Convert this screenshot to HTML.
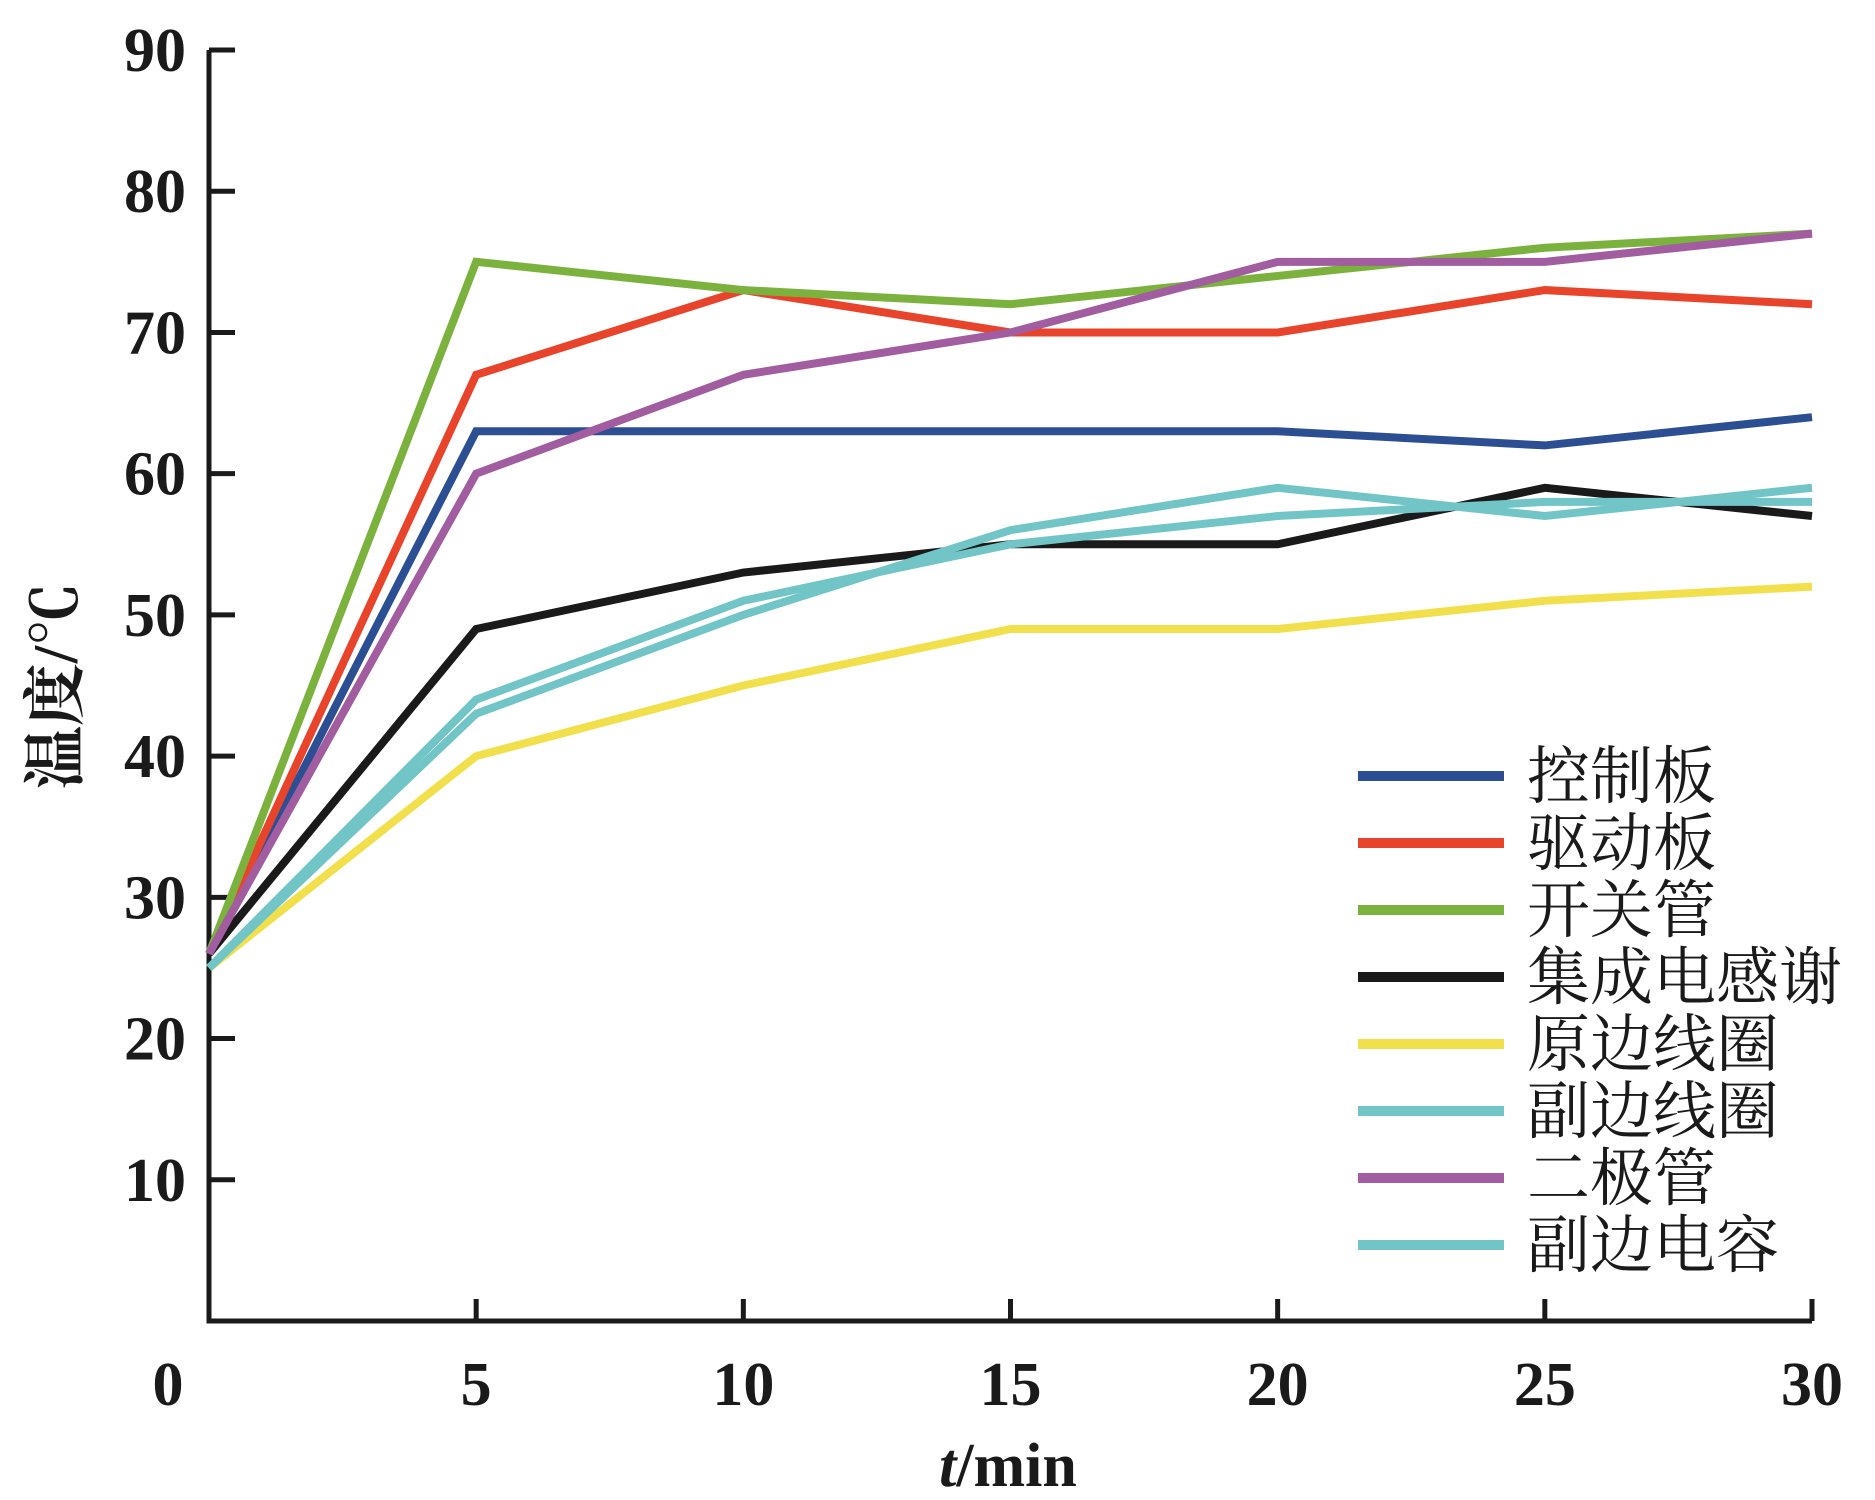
<!DOCTYPE html>
<html><head><meta charset="utf-8"><style>
html,body{margin:0;padding:0;background:#fff;}
svg{display:block;}
.tk{font-family:"Liberation Serif",serif;font-size:62px;font-weight:bold;fill:#1a1a1a;}
.lg{font-family:"Liberation Serif","Noto Serif CJK SC",serif;font-size:63px;fill:#1a1a1a;}
</style></head><body>
<svg id="chart" width="1875" height="1500" viewBox="0 0 1875 1500" xmlns="http://www.w3.org/2000/svg">
<g id="axes"></g>
<g id="series"></g>
<g id="legend"></g>
</svg>
<script>
const xValues = [0, 5, 10, 15, 20, 25, 30];
const xTicks = [5, 10, 15, 20, 25, 30];
const xTickLabels = ["0", "5", "10", "15", "20", "25", "30"];
const yTicks = [10, 20, 30, 40, 50, 60, 70, 80, 90];
const seriesNames = ["控制板","驱动板","开关管","集成电感谢","原边线圈","副边线圈","二极管","副边电容"];
const seriesColors = ["#2c4f93","#e8442b","#7bb23d","#1a1a1a","#f1e04b","#72c5c6","#a15d9f","#72c5c6"];
const s0 = [26,63,63,63,63,62,64];
const s1 = [26,67,73,70,70,73,72];
const s2 = [26,75,73,72,74,76,77];
const s3 = [26,49,53,55,55,59,57];
const s4 = [25,40,45,49,49,51,52];
const s5 = [25,44,51,55,57,58,58];
const s6 = [26,60,67,70,75,75,77];
const s7 = [25,43,50,56,59,57,59];
const seriesValues = [s0,s1,s2,s3,s4,s5,s6,s7];

const NS="http://www.w3.org/2000/svg";
const X0=209, X1=1812, Y0=1321, Y90=50;
function xs(v){return X0+(X1-X0)*v/30;}
function ys(v){return Y0-(Y0-Y90)*v/90;}
function mk(tag,attrs,parent){const e=document.createElementNS(NS,tag);for(const k in attrs)e.setAttribute(k,attrs[k]);parent.appendChild(e);return e;}
const axes=document.getElementById('axes');
let a=mk('path',{d:`M${X0} ${Y90} V${Y0} H${X1}`,fill:'none',stroke:'#1a1a1a','stroke-width':5},axes);


yTicks.forEach(v=>{
  const t=mk('path',{d:`M${X0} ${ys(v)} h26`,stroke:'#1a1a1a','stroke-width':5},axes);
  
  
  const l=mk('text',{x:186,y:ys(v)+21,'text-anchor':'end',class:'tk'},axes);
  l.textContent=String(v);
  
  
});
xTicks.forEach(v=>{
  const t=mk('path',{d:`M${xs(v)} ${Y0} v-22`,stroke:'#1a1a1a','stroke-width':5},axes);
  
  
});
xValues.forEach((v,i)=>{
  const l=mk('text',{x:i===0?168:xs(v),y:1405,'text-anchor':'middle',class:'tk'},axes);
  l.textContent=xTickLabels[i];
  
  
});
const xt=mk('text',{x:1008,y:1486,'text-anchor':'middle',class:'tk'},axes);
xt.innerHTML='<tspan font-style="italic">t</tspan>/min';


const yt=mk('text',{x:0,y:0,'text-anchor':'middle',class:'lg','font-weight':'bold',transform:'translate(77 686) rotate(-90)'},axes);
yt.textContent='温度/℃';



const sg=document.getElementById('series');
const lg=document.getElementById('legend');
seriesValues.forEach((vals,i)=>{
  const p=mk('polyline',{points:vals.map((v,j)=>xs(xValues[j])+','+ys(v)).join(' '),fill:'none',stroke:seriesColors[i],'stroke-width':8,'stroke-linejoin':'miter'},sg);
  
  
  const y=776+i*67;
  const ll=mk('line',{x1:1358,x2:1504,y1:y,y2:y,stroke:seriesColors[i],'stroke-width':10},lg);
  
  
  const lt=mk('text',{x:1527,y:y+22,class:'lg'},lg);
  lt.textContent=seriesNames[i];
  
  
});
</script>
</body></html>
